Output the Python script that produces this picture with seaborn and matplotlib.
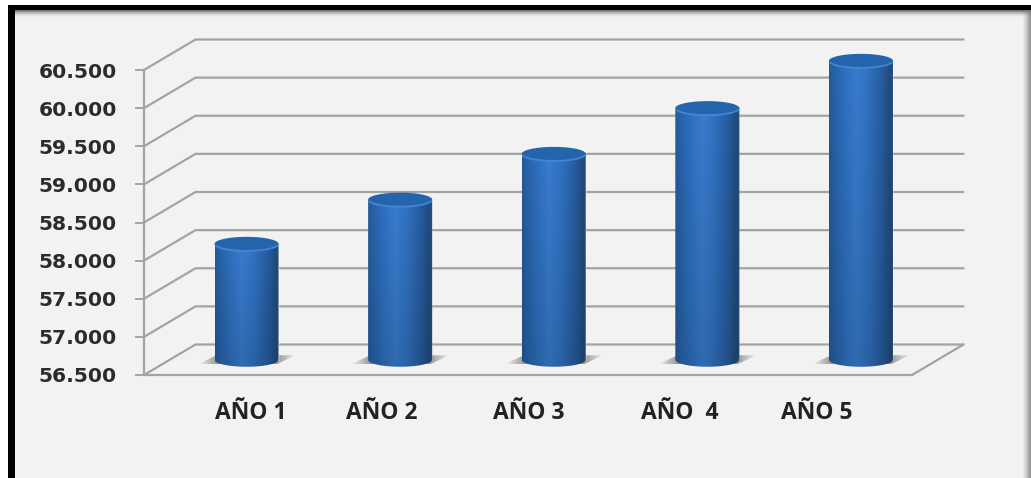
import numpy as np
import matplotlib
matplotlib.use("Agg")
import matplotlib.pyplot as plt
import seaborn as sns
import pandas as pd
from matplotlib.path import Path
from matplotlib.patches import PathPatch, Rectangle
from matplotlib.transforms import ScaledTranslation

categories = ["AÑO 1", "AÑO 2", "AÑO 3", "AÑO  4", "AÑO 5"]
values = [58020, 58600, 59200, 59800, 60420]
y_ticks = [56500, 57000, 57500, 58000, 58500, 59000, 59500, 60000, 60500]
y_tick_labels = ["56.500", "57.000", "57.500", "58.000", "58.500",
                 "59.000", "59.500", "60.000", "60.500"]

W, H = 1031, 478
BG = "#f2f2f2"
GRID = "#a3a3a3"
sns.set_theme(style="white")
fig = plt.figure(figsize=(W / 100, H / 100), dpi=100, facecolor="white")

# ---------- frame ----------
bg = fig.add_axes([0, 0, 1, 1], zorder=0)
bg.set_xlim(0, W); bg.set_ylim(H, 0); bg.axis("off")
bg.add_patch(Rectangle((8, 5), W - 8, H - 5, fc=BG, ec="none"))
fade = np.linspace(0, 1, 64)
top_sh = np.ones((64, 2, 4)); top_sh[..., :3] = 0.1; top_sh[..., 3] = ((1 - fade) ** 2)[:, None] * 0.85
bg.imshow(top_sh, extent=(8, W, 18, 9), aspect="auto", zorder=2)
right_sh = np.ones((2, 64, 4)); right_sh[..., :3] = 0.45; right_sh[..., 3] = (fade ** 1.3)[None, :] * 0.8
bg.imshow(right_sh, extent=(1022, W, H, 9), aspect="auto", zorder=2)
bg.add_patch(Rectangle((8, 5), W - 8, 5, fc="black", ec="none", zorder=3))
bg.add_patch(Rectangle((8, 5), 6.5, H - 5, fc="black", ec="none", zorder=3))
bg.set_xlim(0, W); bg.set_ylim(H, 0)

# ---------- chart axes ----------
ax = fig.add_axes([144 / W, 1 - 375 / H, (912 - 144) / W, (375 - 70) / H], zorder=1)
ax.patch.set_alpha(0)
df = pd.DataFrame({"cat": categories, "val": values})
sns.barplot(data=df, x="cat", y="val", ax=ax, color="#2a6ab8", width=0.417,
            saturation=1, zorder=3)
ax.set_xlim(-0.5, 4.5)
ax.set_ylim(y_ticks[0], y_ticks[-1])
ax.set_xlabel(""); ax.set_ylabel("")

px_x = 5.0 / (912 - 144)
px_y = (y_ticks[-1] - y_ticks[0]) / (375 - 70)
depth_x, depth_y = 51.5 * px_x, 30.5 * px_y

# walls and floor
for t in y_ticks:
    ax.plot([-0.5, -0.5 + depth_x, 4.5 + depth_x], [t, t + depth_y, t + depth_y],
            color=GRID, lw=1.6, clip_on=False, zorder=1, solid_joinstyle="miter")
ax.plot([4.5, 4.5 + depth_x], [y_ticks[0], y_ticks[0] + depth_y],
        color=GRID, lw=1.6, clip_on=False, zorder=1)

for s in ["top", "right"]:
    ax.spines[s].set_visible(False)
for s in ["left", "bottom"]:
    ax.spines[s].set_color(GRID); ax.spines[s].set_linewidth(1.6)

ax.set_yticks(y_ticks)
ax.set_yticklabels(y_tick_labels, fontfamily="DejaVu Sans", fontweight="bold",
                   fontsize=14.6, color="#2b2b2b")
ax.tick_params(axis="y", length=6.5, width=1.4, color=GRID, pad=13, left=True)
ax.set_xticks(range(len(categories)))
ax.set_xticklabels(categories, fontfamily="Open Sans", fontweight="bold",
                   fontsize=16.5, color="#222222")
ax.tick_params(axis="x", length=0, pad=19, bottom=False)
label_shift_px = [30, 7, 1, -2, -18]
for lab, dx in zip(ax.get_xticklabels(), label_shift_px):
    lab.set_transform(lab.get_transform() + ScaledTranslation(dx / 100, 0, fig.dpi_scale_trans))

# ---------- cylinders ----------
nx = 96
u = np.linspace(0, 1, nx)
stops = [0, .05, .22, .42, .62, .82, .95, 1]
cols = np.array([[36, 88, 150], [38, 96, 165], [46, 110, 188], [56, 124, 206],
                 [48, 112, 190], [38, 92, 158], [34, 74, 122], [40, 82, 132]]) / 255
grad = np.stack([np.interp(u, stops, cols[:, i]) for i in range(3)], axis=-1)[None, :, :]
vshade = np.linspace(1.0, 0.86, 64)[:, None, None]   # image row 0 = top
img = np.clip(grad * vshade, 0, 1)

ell_h = 14 * px_y
theta = np.linspace(0, np.pi, 40)
for patch, v in zip(list(ax.patches), values):
    x0 = patch.get_x() + depth_x / 2
    w = patch.get_width()
    base = y_ticks[0] + depth_y / 2
    top = v + depth_y / 2
    # the body image below fully covers the bar; keep the bar's geometry in step
    patch.set_x(x0 + 1 * px_x); patch.set_width(w - 2 * px_x)
    patch.set_y(base); patch.set_height(top - base)
    patch.set_clip_on(False)
    cx = x0 + w / 2

    # floor shadow
    sx = 17 * px_x
    sy = 4.5 * px_y
    s_path = Path([(x0 - sx, base - sy), (x0 + 2 * px_x, base + sy), (x0 + w + sx, base + sy),
                   (x0 + w - 2 * px_x, base - sy), (x0 - sx, base - sy)], closed=True)
    sa = np.ones((2, 100, 4)); sa[..., :3] = 0.42
    sa[..., 3] = np.interp(np.linspace(0, 1, 100), [0, .2, .8, 1], [0, .7, .7, 0])[None, :]
    sim = ax.imshow(sa, extent=(x0 - sx, x0 + w + sx, base - sy, base + sy), aspect="auto", zorder=2)
    sim.set_clip_path(s_path, ax.transData)
    sim.set_clip_box(fig.bbox)

    # body with round bottom
    pts = [(x0, top)] + [(cx + w / 2 * np.cos(t + np.pi), base - ell_h / 2 * np.sin(t)) for t in theta] + [(x0 + w, top), (x0, top)]
    body = Path(pts, closed=True)
    im = ax.imshow(img, extent=(x0, x0 + w, base - ell_h / 2, top), aspect="auto", zorder=4)
    im.set_clip_path(body, ax.transData)
    im.set_clip_box(fig.bbox)

    # top cap with a brighter near rim
    t2 = np.linspace(0, 2 * np.pi, 80)
    cap = np.c_[cx + w / 2 * np.cos(t2), top + ell_h / 2 * np.sin(t2)]
    ax.add_patch(PathPatch(Path(cap, closed=True), fc="#2464ad", ec="none", zorder=5, clip_on=False))
    t3 = np.linspace(np.pi * 1.08, np.pi * 1.92, 40)
    ax.plot(cx + w / 2 * np.cos(t3), top + ell_h / 2 * np.sin(t3), color="#4a8edb",
            lw=1.3, alpha=0.8, zorder=6, clip_on=False)

ax.set_xlim(-0.5, 4.5)
ax.set_ylim(y_ticks[0], y_ticks[-1])
fig.savefig("out.png", dpi=100, facecolor="white")
